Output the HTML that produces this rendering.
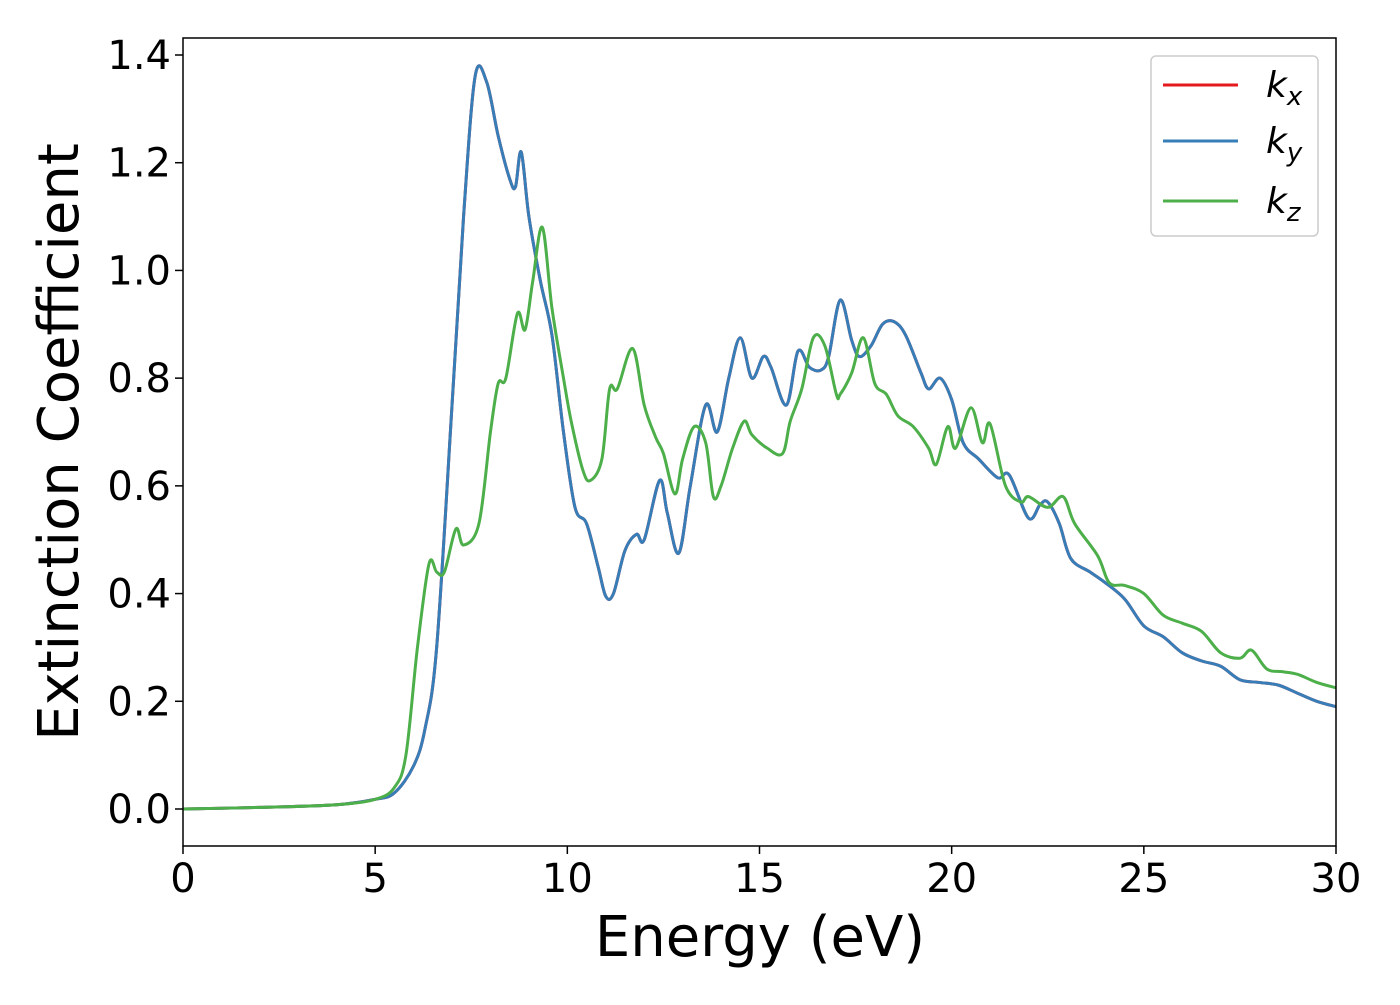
<!DOCTYPE html>
<html><head><meta charset="utf-8"><style>
body{margin:0;background:#fff;}
svg text{font-family:"DejaVu Sans","Liberation Sans",sans-serif;}
</style></head><body>
<svg id="chart" width="1400" height="1000">
<rect x="0" y="0" width="1400" height="1000" fill="#fff"/>
<g id="plot"></g>
<g id="axes"></g>
<text x="760" y="956" font-size="56" text-anchor="middle">Energy (eV)</text>
<text transform="translate(78,442) rotate(-90)" font-size="56" text-anchor="middle">Extinction Coefficient</text>
<g>
<rect x="1151" y="56" width="167" height="180" rx="5" fill="#fff" stroke="#ccc" stroke-width="1.5"/>
<line x1="1163" y1="85" x2="1238" y2="85" stroke="#e41a1c" stroke-width="3"/>
<text x="1266" y="97" font-size="36" font-style="italic">k<tspan font-size="26" dy="8">x</tspan></text>
<line x1="1163" y1="141" x2="1238" y2="141" stroke="#377eb8" stroke-width="3"/>
<text x="1266" y="153" font-size="36" font-style="italic">k<tspan font-size="26" dy="8">y</tspan></text>
<line x1="1163" y1="201" x2="1238" y2="201" stroke="#4daf4a" stroke-width="3"/>
<text x="1266" y="213" font-size="36" font-style="italic">k<tspan font-size="26" dy="8">z</tspan></text>
</g>
</svg>
<script>
const xyE=[0,2,4,5,5.5,6,6.3,6.6,7,7.3,7.6,7.9,8.2,8.5,8.65,8.8,9,9.3,9.6,9.9,10.2,10.5,10.8,11,11.2,11.5,11.8,12,12.4,12.6,12.9,13.2,13.6,13.9,14.2,14.5,14.8,15.1,15.3,15.7,16,16.3,16.6,16.8,17.1,17.4,17.6,17.9,18.2,18.5,18.8,19.2,19.4,19.7,20,20.3,20.7,21.2,21.5,22,22.3,22.5,22.8,23.1,23.6,24,24.5,25,25.5,26,26.5,27,27.5,28,28.5,29,29.5,30];
const kxyV=[0,0.003,0.008,0.018,0.03,0.08,0.15,0.3,0.75,1.1,1.36,1.35,1.25,1.17,1.155,1.22,1.1,0.98,0.88,0.7,0.56,0.53,0.45,0.395,0.40,0.48,0.51,0.50,0.61,0.55,0.475,0.6,0.75,0.70,0.8,0.875,0.80,0.84,0.82,0.75,0.85,0.82,0.815,0.84,0.945,0.87,0.84,0.86,0.90,0.905,0.88,0.81,0.78,0.80,0.76,0.68,0.65,0.615,0.62,0.54,0.565,0.57,0.53,0.465,0.44,0.42,0.39,0.34,0.32,0.29,0.275,0.265,0.24,0.235,0.23,0.215,0.2,0.19];
const zE=[0,2,4,5,5.5,5.8,6.1,6.4,6.6,6.8,7.1,7.3,7.7,8,8.2,8.4,8.7,8.9,9.1,9.35,9.6,9.9,10.1,10.4,10.6,10.9,11.1,11.3,11.7,12,12.3,12.5,12.8,13,13.3,13.6,13.8,14,14.3,14.6,14.8,15.2,15.6,15.8,16.1,16.4,16.7,17,17.1,17.4,17.7,18,18.3,18.6,19,19.4,19.6,19.9,20.1,20.5,20.8,21,21.4,21.8,22,22.5,22.9,23.2,23.8,24.1,24.5,25,25.5,26,26.5,27,27.5,27.8,28.2,28.6,29,29.5,30];
const kzV=[0,0.003,0.008,0.018,0.04,0.1,0.3,0.455,0.44,0.44,0.52,0.49,0.53,0.7,0.79,0.8,0.92,0.89,0.98,1.08,0.93,0.8,0.72,0.63,0.61,0.65,0.78,0.78,0.855,0.75,0.69,0.66,0.585,0.65,0.71,0.68,0.58,0.6,0.67,0.72,0.695,0.67,0.66,0.72,0.78,0.875,0.86,0.77,0.77,0.81,0.875,0.79,0.77,0.73,0.71,0.67,0.64,0.71,0.67,0.745,0.68,0.715,0.6,0.57,0.58,0.56,0.58,0.53,0.47,0.42,0.415,0.40,0.36,0.345,0.33,0.29,0.28,0.295,0.26,0.255,0.25,0.235,0.225];
const xTicks=[0,5,10,15,20,25,30];
const yTicks=[0,0.2,0.4,0.6,0.8,1.0,1.2,1.4];
const yTickLabels=["0.0","0.2","0.4","0.6","0.8","1.0","1.2","1.4"];
const X0=183,X1=1336,Y0=38,Y1=846;
const xs=v=>X0+(v-0)/30*(X1-X0);
const ys=v=>809-v*(809-55)/1.4;
const NS="http://www.w3.org/2000/svg";
const plot=document.getElementById('plot'),axes=document.getElementById('axes');
function mk(t,a,p){const e=document.createElementNS(NS,t);for(const k in a)e.setAttribute(k,a[k]);p.appendChild(e);return e;}
function pathD(E,V){const P=E.map((e,i)=>[xs(e),ys(V[i])]);let d="M"+P[0][0]+","+P[0][1];
for(let i=0;i<P.length-1;i++){const p0=P[Math.max(0,i-1)],p1=P[i],p2=P[i+1],p3=P[Math.min(P.length-1,i+2)];
const c1=[p1[0]+(p2[0]-p0[0])/6,p1[1]+(p2[1]-p0[1])/6],c2=[p2[0]-(p3[0]-p1[0])/6,p2[1]-(p3[1]-p1[1])/6];
d+=` C${c1[0]},${c1[1]} ${c2[0]},${c2[1]} ${p2[0]},${p2[1]}`;}return d;}
const series=[[xyE,kxyV,'#e41a1c','kx'],[xyE,kxyV,'#377eb8','ky'],[zE,kzV,'#4daf4a','kz']];
series.forEach(s=>{const p=mk('path',{d:pathD(s[0],s[1]),fill:'none',stroke:s[2],'stroke-width':3,'stroke-linejoin':'round'},plot);

});
const fr=mk('rect',{x:X0,y:Y0,width:X1-X0,height:Y1-Y0,fill:'none',stroke:'#000','stroke-width':1.5},axes);


xTicks.forEach(t=>{const x=xs(t);mk('line',{x1:x,y1:Y1,x2:x,y2:Y1+8,stroke:'#000','stroke-width':1.5},axes);
const tx=mk('text',{x:x,y:Y1+46,'font-size':40,'text-anchor':'middle'},axes);tx.textContent=t;

});
yTicks.forEach((t,i)=>{const y=ys(t);mk('line',{x1:X0-8,y1:y,x2:X0,y2:y,stroke:'#000','stroke-width':1.5},axes);
const tx=mk('text',{x:X0-12,y:y+14,'font-size':40,'text-anchor':'end'},axes);tx.textContent=yTickLabels[i];

});
</script>
</body></html>
